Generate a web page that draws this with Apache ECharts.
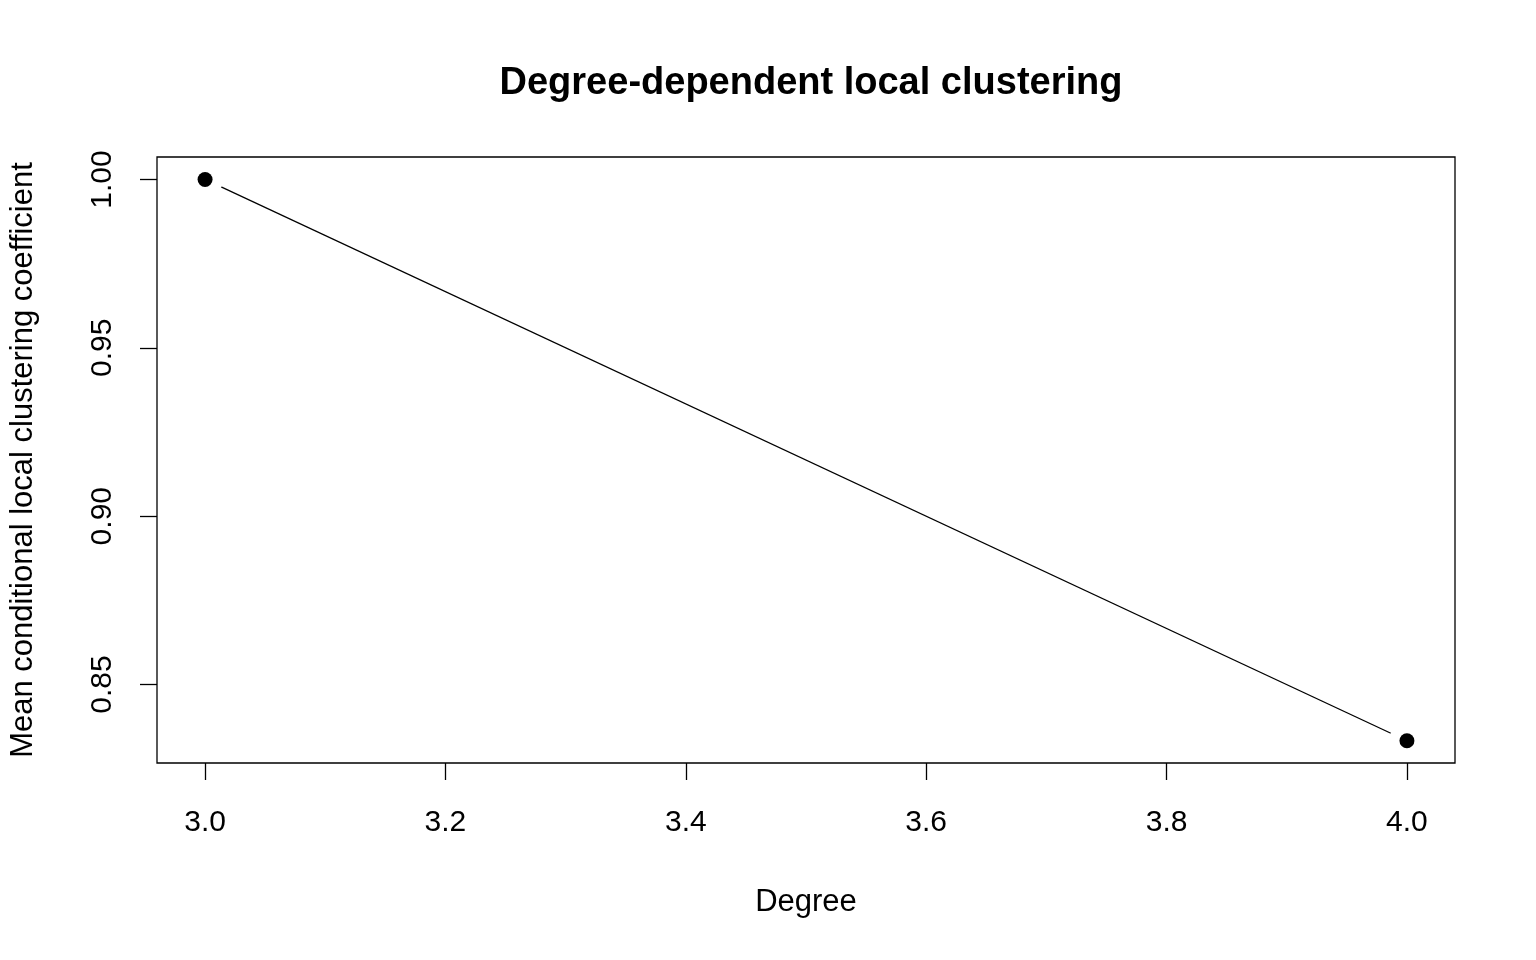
<!DOCTYPE html>
<html><head><meta charset="utf-8">
<script src="https://cdn.jsdelivr.net/npm/echarts@6/dist/echarts.min.js"></script>
<style>html,body{margin:0;padding:0;background:#fff}#c{width:1536px;height:960px}</style>
</head><body><div id="c"></div>
<script>
const degrees = [3, 4];
const clustering = [1.0, 0.8333];
const xTicks = [3.0, 3.2, 3.4, 3.6, 3.8, 4.0];
const yTicks = [0.85, 0.90, 0.95, 1.00];
const pts = degrees.map((d, i) => [d, clustering[i]]);
const font = 'Liberation Sans, Arial, sans-serif';
const chart = echarts.init(document.getElementById('c'));
chart.setOption({
  animation: false,
  title: { text: 'Degree-dependent local clustering', left: 806, top: 60, textAlign: 'center',
    textStyle: { fontFamily: font, fontSize: 38, fontWeight: 'bold', color: '#000' } },
  grid: { left: 157, top: 157, width: 1298, height: 606, outerBoundsMode: 'none', containLabel: false,
    show: true, borderColor: '#000', borderWidth: 1.3, backgroundColor: 'transparent' },
  xAxis: { type: 'value', min: 2.96, max: 4.04, name: 'Degree', nameLocation: 'middle', nameGap: 124,
    nameTextStyle: { fontFamily: font, fontSize: 31, color: '#000' },
    axisLine: { show: false }, splitLine: { show: false },
    axisTick: { show: true, length: 17, customValues: xTicks, lineStyle: { color: '#000', width: 1.3 } },
    axisLabel: { customValues: xTicks, margin: 45, fontFamily: font, fontSize: 30, color: '#000', formatter: v => v.toFixed(1) } },
  yAxis: { type: 'value', min: 0.8267, max: 1.00667, name: 'Mean conditional local clustering coefficient', nameLocation: 'middle', nameGap: 118,
    nameTextStyle: { fontFamily: font, fontSize: 31, color: '#000' },
    axisLine: { show: false }, splitLine: { show: false },
    axisTick: { show: true, length: 17, customValues: yTicks, lineStyle: { color: '#000', width: 1.3 } },
    axisLabel: { customValues: yTicks, rotate: 90, margin: 39, fontFamily: font, fontSize: 30, color: '#000', formatter: v => v.toFixed(2) } },
  series: [
    { type: 'line', data: pts, symbol: 'none', lineStyle: { color: '#000', width: 1.3 }, z: 2 },
    { type: 'scatter', data: pts, symbol: 'circle', symbolSize: 36, itemStyle: { color: '#fff', opacity: 1 }, z: 3 },
    { type: 'scatter', data: pts, symbol: 'circle', symbolSize: 15, itemStyle: { color: '#000', opacity: 1 }, z: 4 }
  ]
});
</script></body></html>
